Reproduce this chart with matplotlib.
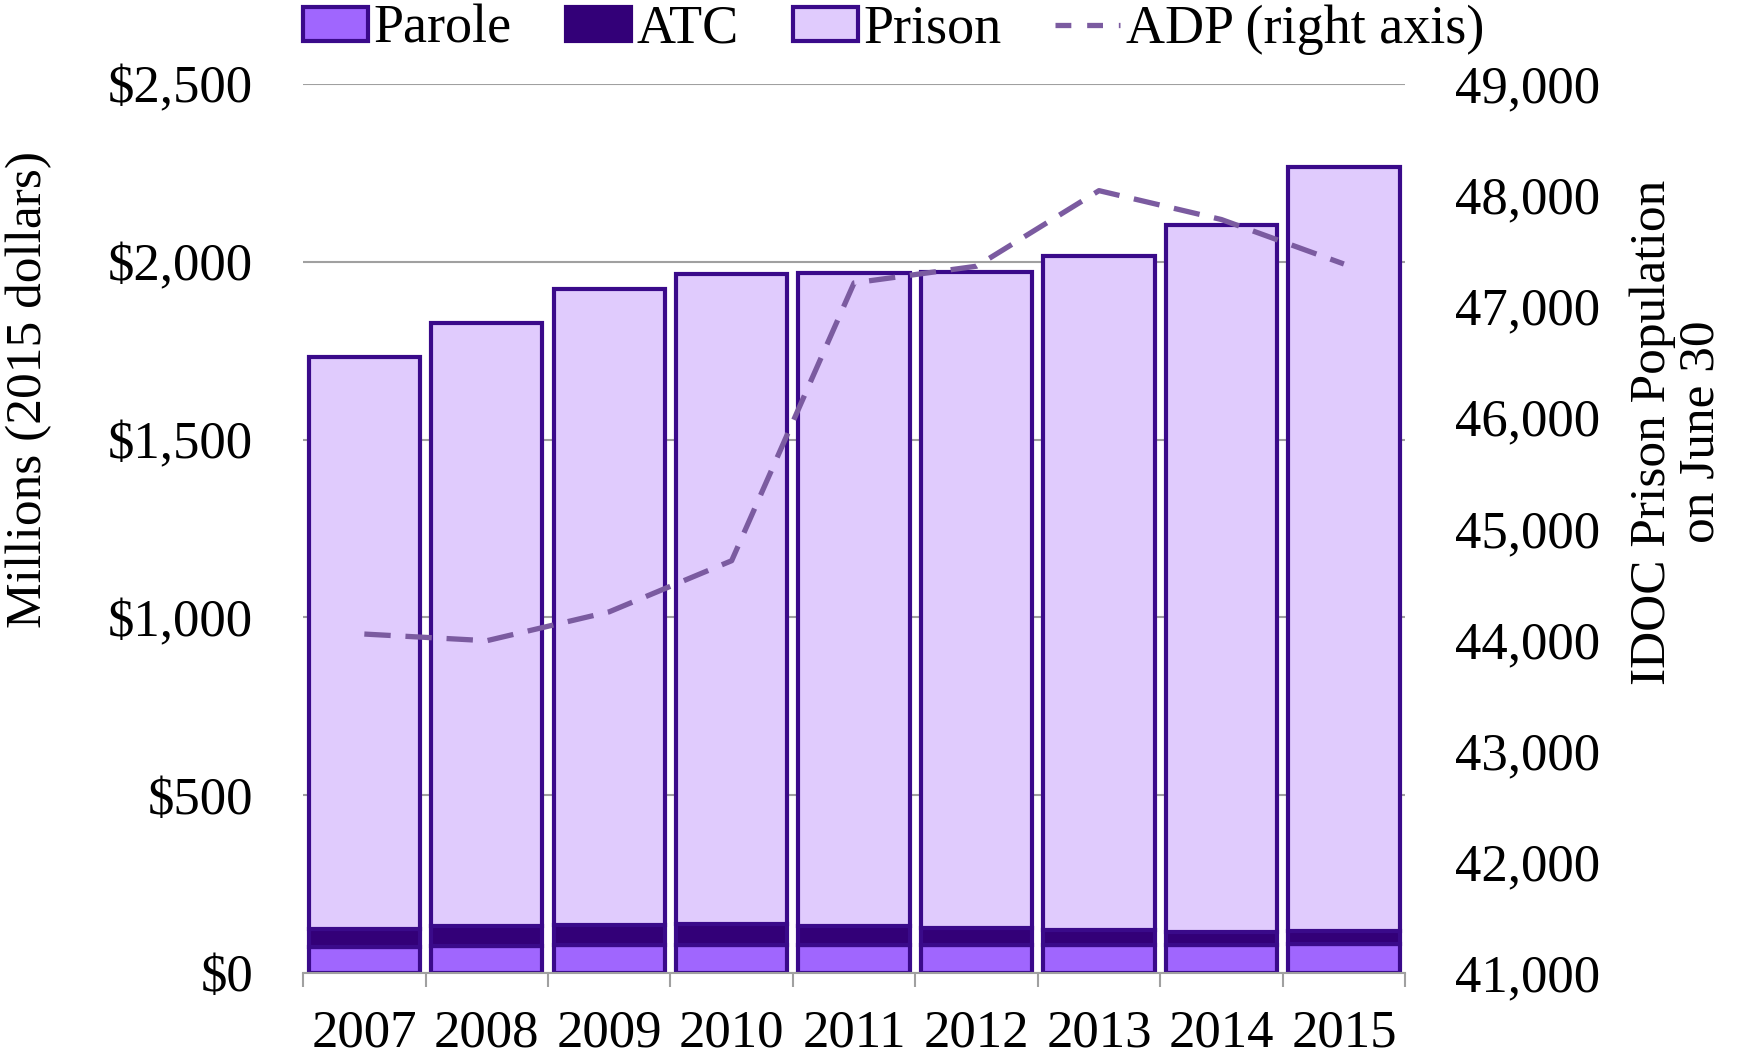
import matplotlib
matplotlib.use('Agg')
import matplotlib.pyplot as plt
import numpy as np
from matplotlib.patches import Patch
from matplotlib.lines import Line2D
from matplotlib.ticker import FuncFormatter

plt.rcParams['font.family'] = ['Liberation Serif', 'DejaVu Serif']

years = ['2007', '2008', '2009', '2010', '2011', '2012', '2013', '2014', '2015']
parole = [72, 75, 78, 80, 78, 79, 78, 78, 82]
atc = [52, 56, 56, 58, 54, 48, 44, 36, 37]
prison = [1607, 1697, 1788, 1828, 1836, 1845, 1894, 1989, 2147]
adp = [44050, 43990, 44250, 44710, 47210, 47360, 48040, 47780, 47380]

c_parole = '#a066fe'
c_atc = '#330078'
c_prison = '#e0cbfd'
c_edge = '#3a0a8a'
c_line = '#7b5ba0'
c_grid = '#a0a0a0'

x = np.arange(len(years))
width = 0.91

fig = plt.figure(figsize=(17.42, 10.56), dpi=100)
ax = fig.add_axes([0.174, 0.0786, 0.8066 - 0.174, 0.9205 - 0.0786])

bottom2 = np.array(parole) + np.array(atc)
ax.bar(x, parole, width, color=c_parole, edgecolor=c_edge, linewidth=3, zorder=3)
ax.bar(x, atc, width, bottom=parole, color=c_atc, edgecolor=c_edge, linewidth=3, zorder=3)
ax.bar(x, prison, width, bottom=bottom2, color=c_prison, edgecolor=c_edge, linewidth=3, zorder=3)

ax.set_xlim(-0.5, len(years) - 0.5)
ax.set_ylim(0, 2500)
ax.set_yticks(np.arange(0, 2501, 500))
ax.yaxis.set_major_formatter(FuncFormatter(lambda v, p: '${:,.0f}'.format(v)))
ax.grid(axis='y', color=c_grid, linewidth=1.5, zorder=0)
ax.set_axisbelow(True)

ax.set_xticks(x)
ax.set_xticklabels(years)
ax.set_xticks(np.arange(-0.5, len(years), 1), minor=True)
ax.tick_params(axis='x', which='major', length=0, pad=26, labelsize=38)
ax.tick_params(axis='x', which='minor', length=10, width=1.5, color=c_grid)
ax.tick_params(axis='y', length=0, pad=36, labelsize=38)

for s in ['top', 'left', 'right']:
    ax.spines[s].set_visible(False)
ax.spines['bottom'].set_color(c_grid)
ax.spines['bottom'].set_linewidth(1.5)
ax.spines['bottom'].set_zorder(4)

ax.set_ylabel('Millions (2015 dollars)', fontsize=37)
ax.yaxis.set_label_coords(-0.2278, 0.656)

ax2 = ax.twinx()
ax2.plot(x, adp, color=c_line, linewidth=3.8, dashes=(5, 2.8), zorder=5)
ax2.set_ylim(41000, 49000)
ax2.set_yticks(np.arange(41000, 49001, 1000))
ax2.yaxis.set_major_formatter(FuncFormatter(lambda v, p: '{:,.0f}'.format(v)))
ax2.tick_params(axis='y', length=0, pad=36, labelsize=38)
for s in ['top', 'left', 'right', 'bottom']:
    ax2.spines[s].set_visible(False)

# right axis title, two centred lines
ax2.text(1.247, 0.6086, 'IDOC Prison Population\non June 30', transform=ax2.transAxes,
         rotation=90, ha='center', va='center', multialignment='center',
         fontsize=37, linespacing=1.05)

handles = [
    Patch(facecolor=c_parole, edgecolor=c_edge, linewidth=3, label='Parole'),
    Patch(facecolor=c_atc, edgecolor=c_atc, linewidth=3, label='ATC'),
    Patch(facecolor=c_prison, edgecolor=c_edge, linewidth=3, label='Prison'),
    Line2D([0], [0], color=c_line, linewidth=3.8, dashes=(3, 3), label='ADP (right axis)'),
]
fig.legend(handles=handles, loc='center', bbox_to_anchor=(0.513, 0.972), ncol=4,
           frameon=False, fontsize=39, handlelength=1.2, handleheight=0.6,
           handletextpad=0.1, columnspacing=1.0)

plt.savefig('out.png', dpi=100)
